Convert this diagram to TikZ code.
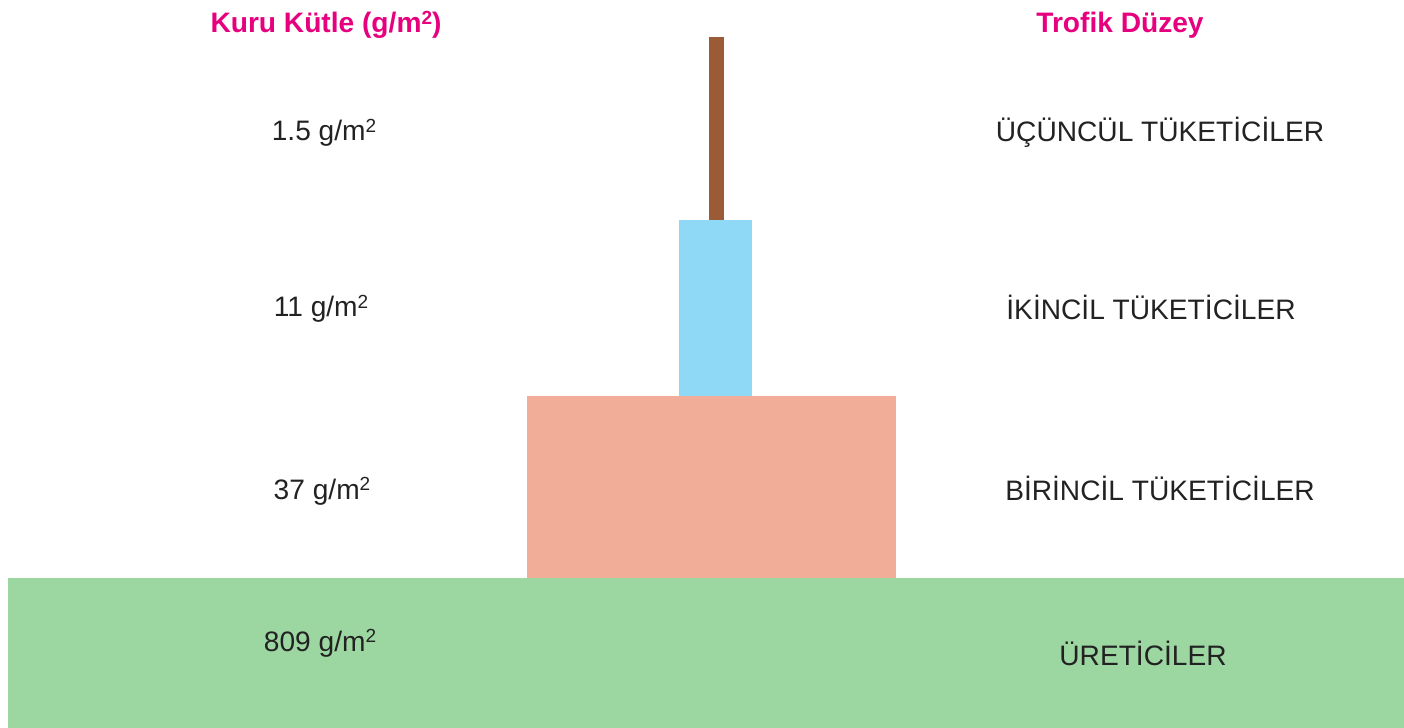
\documentclass[tikz,border=0pt]{standalone}
\usepackage{fontspec}
\setmainfont{Liberation Sans}
\usepackage{xcolor}
\usetikzlibrary{positioning}

\definecolor{headpink}{HTML}{E6007E}
\definecolor{stembrown}{HTML}{9B5B36}
\definecolor{skyblue}{HTML}{8FD9F7}
\definecolor{salmon}{HTML}{F2AD98}
\definecolor{grassgreen}{HTML}{9CD6A1}
\definecolor{inkgray}{HTML}{222222}

\newcommand{\sqmark}{\raisebox{0.3em}{\fontsize{5.4}{6}\selectfont 2}}

\begin{document}
\begin{tikzpicture}[
    x=0.01cm, y=-0.01cm,
    head/.style={anchor=base, inner sep=0pt, text=headpink, font=\fontsize{8}{9.6}\selectfont\bfseries},
    val/.style={anchor=base, inner sep=0pt, text=inkgray, font=\fontsize{8}{9.6}\selectfont},
    lvl/.style={anchor=base, inner sep=0pt, text=inkgray, font=\fontsize{8}{9.6}\selectfont},
]
\useasboundingbox (0,0) rectangle (1404,728);

% Pyramid levels
\fill[grassgreen] (8,578) rectangle (1404,728);
\fill[salmon] (527,396) rectangle (896,578);
\fill[skyblue] (679,220) rectangle (752,396);
\fill[stembrown] (709,37) rectangle (724,220);

% Headings
\node[head] (masshead) at (326,33) {Kuru Kütle (g/m\sqmark)};
\node[head] (levelhead) at (1120,33) {Trofik Düzey};

% Dry mass values
\node[val] (mass3) at (324,141) {1.5 g/m\sqmark};
\node[val] (mass2) at (321,317) {11 g/m\sqmark};
\node[val] (mass1) at (322,499) {37 g/m\sqmark};
\node[val] (mass0) at (320,651) {809 g/m\sqmark};

% Trophic levels
\node[lvl] (level3) at (1160,142) {ÜÇÜNCÜL TÜKETİCİLER};
\node[lvl] (level2) at (1151,320) {İKİNCİL TÜKETİCİLER};
\node[lvl] (level1) at (1160,500) {BİRİNCİL TÜKETİCİLER};
\node[lvl] (level0) at (1143,665) {ÜRETİCİLER};

\end{tikzpicture}
\end{document}
